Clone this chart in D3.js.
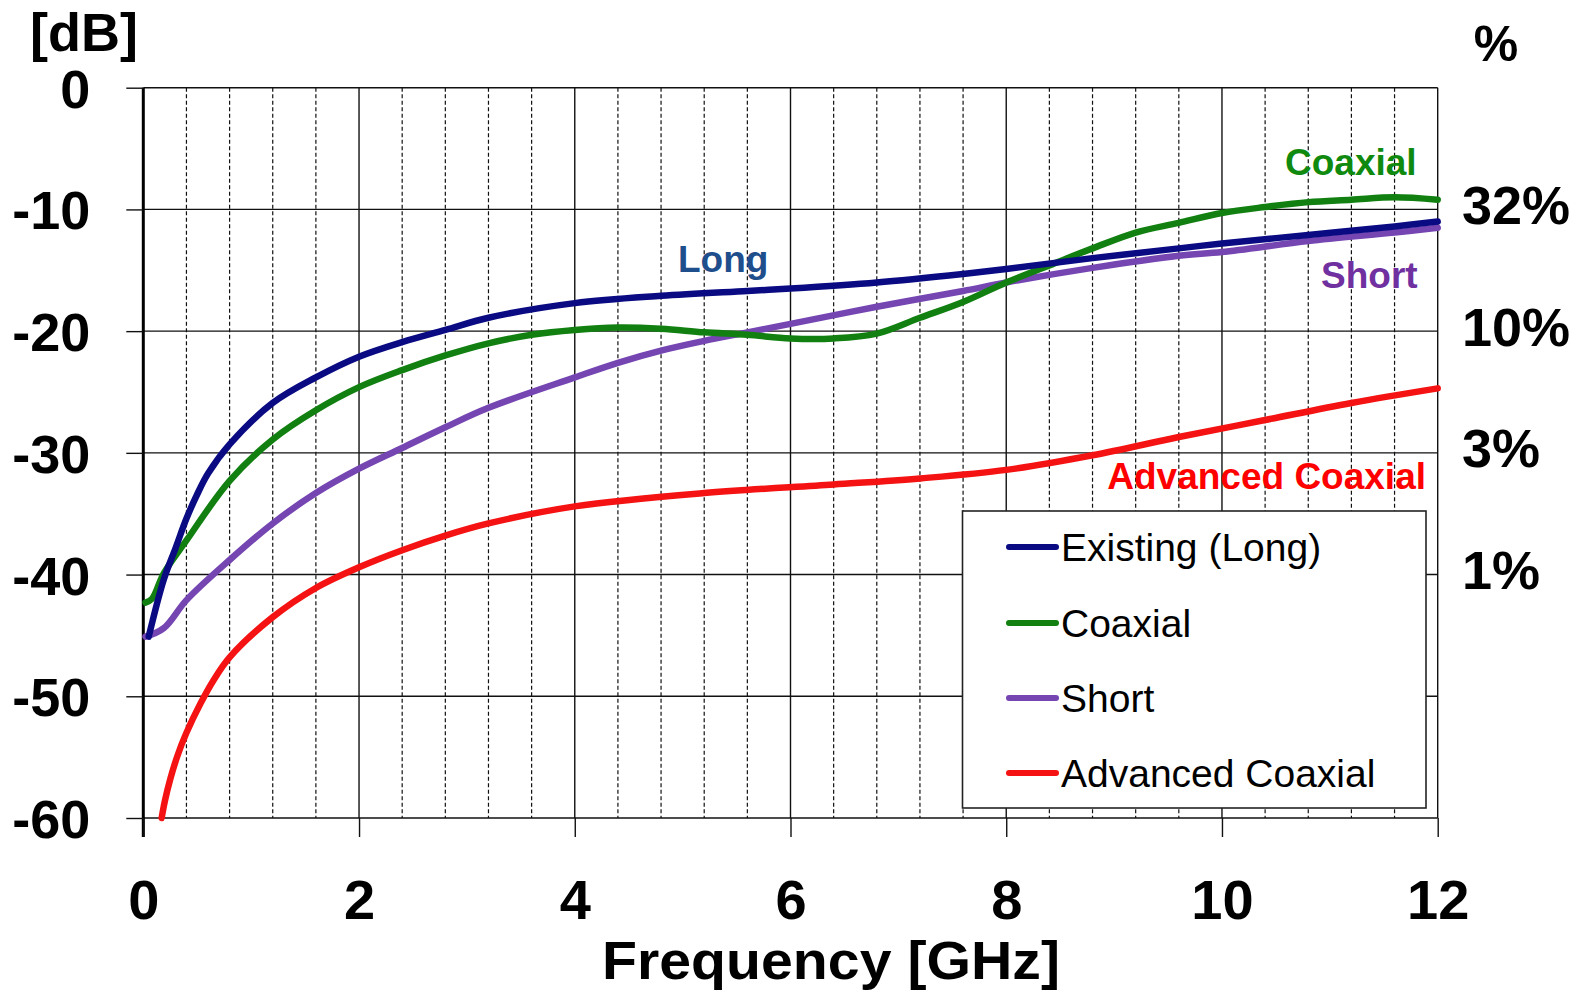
<!DOCTYPE html>
<html>
<head>
<meta charset="utf-8">
<script src="https://cdn.jsdelivr.net/npm/d3@7"></script>
<style>
  html, body { margin: 0; padding: 0; background: #fff; }
  svg { display: block; font-family: "Liberation Sans", Arial, sans-serif; }
</style>
</head>
<body>
<svg id="chart" width="1581" height="991"></svg>
<script>
// ---- Data ----
const xTicks = [0, 2, 4, 6, 8, 10, 12];
const yTicks = [0, -10, -20, -30, -40, -50, -60];
const pctLabels = ["32%", "10%", "3%", "1%"];
const pctAt = [-10, -20, -30, -40];

const freqLong = [0.05, 0.19, 0.3, 0.4, 0.5, 0.6, 0.8, 1.2, 1.6, 2.0, 2.4, 2.8, 3.2, 4.0, 4.8, 5.6, 6.0, 6.8, 7.6, 8.0, 8.8, 9.6, 10.0, 10.8, 11.6, 12];
const dbLong   = [-45.1, -40.4, -37.8, -35.4, -33.4, -31.7, -29.3, -25.9, -23.8, -22.1, -20.9, -19.9, -18.9, -17.7, -17.1, -16.7, -16.5, -16.0, -15.3, -14.9, -14.0, -13.2, -12.8, -12.1, -11.4, -11.0];

const freqCoax = [0.02, 0.08, 0.19, 0.4, 0.8, 1.2, 1.6, 2.0, 2.4, 2.8, 3.2, 3.6, 4.0, 4.4, 4.8, 5.2, 5.6, 6.0, 6.4, 6.8, 7.2, 7.6, 8.0, 8.4, 8.8, 9.2, 9.6, 10.0, 10.4, 10.8, 11.2, 11.6, 12];
const dbCoax   = [-42.3, -42.0, -39.9, -37.2, -32.3, -28.9, -26.5, -24.6, -23.2, -22.0, -21.0, -20.3, -19.9, -19.7, -19.8, -20.1, -20.3, -20.6, -20.6, -20.2, -18.9, -17.6, -16.0, -14.6, -13.2, -11.9, -11.1, -10.3, -9.8, -9.4, -9.2, -9.0, -9.2];

const freqShort = [0.02, 0.19, 0.4, 0.8, 1.2, 1.6, 2.0, 2.4, 2.8, 3.2, 4.0, 4.4, 4.8, 5.2, 5.6, 6.0, 6.8, 7.6, 8.0, 8.8, 9.6, 10.0, 10.8, 11.6, 12];
const dbShort   = [-45.1, -44.4, -42.1, -38.8, -35.8, -33.3, -31.3, -29.6, -27.9, -26.3, -23.8, -22.6, -21.6, -20.8, -20.1, -19.4, -18.0, -16.7, -16.0, -14.8, -13.8, -13.5, -12.6, -11.9, -11.5];

const freqAdv = [0.17, 0.2, 0.25, 0.32, 0.4, 0.53, 0.65, 0.8, 1.2, 1.6, 2.0, 2.4, 2.8, 3.2, 4.0, 5.2, 6.4, 7.2, 8.0, 8.8, 9.6, 10.4, 11.2, 12];
const dbAdv   = [-60, -58.6, -56.8, -54.8, -53.0, -50.6, -48.7, -46.8, -43.5, -41.1, -39.4, -38.0, -36.8, -35.8, -34.4, -33.3, -32.6, -32.1, -31.4, -30.2, -28.7, -27.3, -25.9, -24.7];

const seriesNames = ["Existing (Long)", "Coaxial", "Short", "Advanced Coaxial"];
const seriesColors = ["#0a0a82", "#118011", "#7545b2", "#f51212"];

// ---- Layout ----
const svg = d3.select("#chart");
const x = d3.scaleLinear().domain([0, 12]).range([143.3, 1437.7]);
const y = d3.scaleLinear().domain([-60, 0]).range([818, 87.7]);

const grid = svg.append("g");
// dashed minor verticals every 0.4 GHz
const minor = d3.range(0, 12.0001, 0.4).filter(v => Math.abs(v / 2 - Math.round(v / 2)) > 0.01);
grid.selectAll("line.minor").data(minor).enter().append("line")
  .attr("x1", d => x(d)).attr("x2", d => x(d))
  .attr("y1", y(0)).attr("y2", y(-60))
  .attr("stroke", "#111").attr("stroke-width", 1.2).attr("stroke-dasharray", "4,2.5");
// solid verticals
grid.selectAll("line.major").data(xTicks.slice(1)).enter().append("line")
  .attr("x1", d => x(d)).attr("x2", d => x(d))
  .attr("y1", y(0)).attr("y2", y(-60))
  .attr("stroke", "#111").attr("stroke-width", 1.4);
// horizontals
grid.selectAll("line.h").data(yTicks).enter().append("line")
  .attr("x1", x(0)).attr("x2", x(12))
  .attr("y1", d => y(d)).attr("y2", d => y(d))
  .attr("stroke", "#111").attr("stroke-width", 1.4);

// axes
const yAxis = d3.axisLeft(y).tickValues(yTicks).tickSize(17).tickPadding(36).tickFormat(d3.format("d"));
const gy = svg.append("g").attr("transform", `translate(${x(0)},0)`).call(yAxis);
gy.select(".domain").attr("stroke", "#000").attr("stroke-width", 3).attr("d", `M0,${y(0)}V${y(-60) + 19}`);
gy.selectAll(".tick line").attr("stroke", "#111").attr("stroke-width", 1.4);
gy.selectAll(".tick text").attr("font-size", 54).attr("font-weight", "bold").attr("fill", "#000")
  .attr("font-family", "Liberation Sans, Arial, sans-serif").attr("dy", "0.36em")
  .text(d => d === 0 ? "0" : "-" + Math.abs(d));

const xAxis = d3.axisBottom(x).tickValues(xTicks).tickSize(19).tickFormat(d3.format("d"));
const gx = svg.append("g").attr("transform", `translate(0,${y(-60)})`).call(xAxis);
gx.select(".domain").remove();
gx.selectAll(".tick line").attr("stroke", "#111").attr("stroke-width", 1.4);
gx.selectAll(".tick text").attr("font-size", 56).attr("font-weight", "bold").attr("fill", "#000")
  .attr("font-family", "Liberation Sans, Arial, sans-serif").attr("y", 101).attr("dy", "0");

// titles
svg.append("text").attr("x", 30).attr("y", 51).attr("font-size", 54).attr("font-weight", "bold").text("[dB]");
svg.append("text").attr("x", 1496).attr("y", 61).attr("text-anchor", "middle").attr("font-size", 50).attr("font-weight", "bold").text("%");
svg.append("text").attr("x", 831).attr("y", 979).attr("text-anchor", "middle").attr("font-size", 54).attr("font-weight", "bold")
  .attr("textLength", 458).attr("lengthAdjust", "spacingAndGlyphs").text("Frequency [GHz]");

// right % labels
svg.selectAll("text.pct").data(pctLabels).enter().append("text")
  .attr("x", 1462).attr("y", (d, i) => y(pctAt[i]) - 5).attr("dy", "0.36em")
  .attr("font-size", 54).attr("font-weight", "bold").text(d => d);

// legend box (drawn over grid)
const lg = svg.append("g");
lg.append("rect").attr("x", 962.5).attr("y", 511).attr("width", 463.5).attr("height", 297)
  .attr("fill", "#fff").attr("stroke", "#222").attr("stroke-width", 1.6);
const rowY = [547, 623, 698, 773];
seriesNames.forEach((n, i) => {
  lg.append("line").attr("x1", 1009).attr("x2", 1056).attr("y1", rowY[i]).attr("y2", rowY[i])
    .attr("stroke", seriesColors[i]).attr("stroke-width", 6).attr("stroke-linecap", "round");
  lg.append("text").attr("x", 1061).attr("y", rowY[i] + 14).attr("font-size", 39).attr("fill", "#000").text(n);
});

// curves
const line = d3.line().x(d => x(d[0])).y(d => y(d[1])).curve(d3.curveCatmullRom.alpha(0.5));
const seriesData = [
  d3.zip(freqLong, dbLong),
  d3.zip(freqCoax, dbCoax),
  d3.zip(freqShort, dbShort),
  d3.zip(freqAdv, dbAdv)
];
const drawOrder = [3, 2, 1, 0];
drawOrder.forEach(i => {
  svg.append("path").datum(seriesData[i]).attr("d", line)
    .attr("fill", "none").attr("stroke", seriesColors[i]).attr("stroke-width", 6.5)
    .attr("stroke-linejoin", "round").attr("stroke-linecap", "round");
});

// curve labels
const lbl = (t, xx, yy, c, anchor) => svg.append("text").attr("x", xx).attr("y", yy)
  .attr("font-size", 37).attr("font-weight", "bold").attr("fill", c).attr("text-anchor", anchor || "start").text(t);
lbl("Long", 678, 272, "#1f4e8c");
lbl("Coaxial", 1285, 175, "#0f8a0f");
lbl("Short", 1321, 288, "#7030a0");
lbl("Advanced Coaxial", 1426, 489, "#ff0000", "end");
</script>
</body>
</html>
